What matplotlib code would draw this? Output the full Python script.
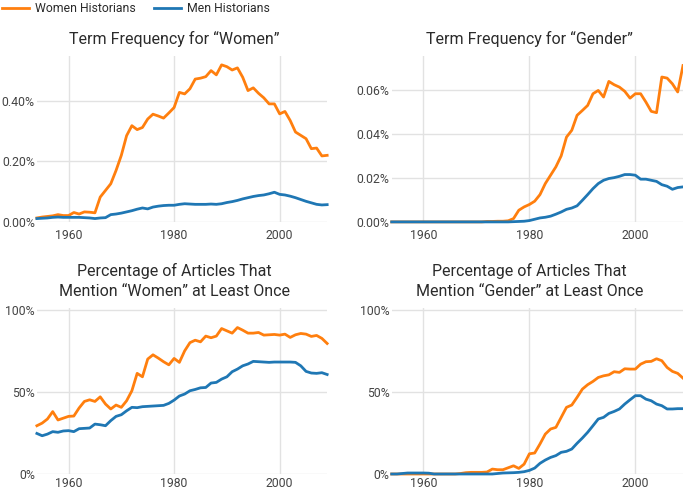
import matplotlib
matplotlib.use('Agg')
import matplotlib.pyplot as plt
from matplotlib.ticker import FuncFormatter

plt.rcParams['font.family'] = ['Roboto', 'DejaVu Sans']

years = list(range(1954, 2010))

# term frequency for "women", percent of words
tf_women_w = [0.013, 0.016, 0.018, 0.020, 0.024, 0.021, 0.021, 0.031, 0.026, 0.033,
              0.032, 0.030, 0.082, 0.104, 0.126, 0.170, 0.220, 0.285, 0.318, 0.305,
              0.312, 0.340, 0.356, 0.350, 0.343, 0.360, 0.378, 0.428, 0.423, 0.440,
              0.472, 0.475, 0.480, 0.500, 0.486, 0.519, 0.513, 0.502, 0.509, 0.478,
              0.434, 0.443, 0.425, 0.410, 0.390, 0.390, 0.357, 0.365, 0.335, 0.297,
              0.286, 0.275, 0.242, 0.244, 0.218, 0.220]
tf_women_m = [0.011, 0.012, 0.013, 0.015, 0.016, 0.015, 0.015, 0.015, 0.015, 0.014,
              0.013, 0.011, 0.013, 0.014, 0.024, 0.026, 0.029, 0.033, 0.037, 0.042,
              0.046, 0.043, 0.049, 0.052, 0.054, 0.055, 0.055, 0.058, 0.060, 0.059,
              0.058, 0.058, 0.058, 0.059, 0.058, 0.060, 0.064, 0.067, 0.071, 0.076,
              0.080, 0.084, 0.087, 0.089, 0.093, 0.098, 0.091, 0.089, 0.085, 0.080,
              0.074, 0.068, 0.063, 0.058, 0.056, 0.057]

# term frequency for "gender"
tf_gender_w = [0, 0, 0, 0, 0, 0, 0, 0, 0, 0,
               0, 0, 0, 0, 0, 0, 0, 0, 0.0002, 0.0002,
               0.0003, 0.0003, 0.0005, 0.0015, 0.0053, 0.0068, 0.0079, 0.0094, 0.0124, 0.0174,
               0.0212, 0.0250, 0.0300, 0.0385, 0.0416, 0.0484, 0.0506, 0.0529, 0.0582, 0.0597,
               0.0567, 0.0638, 0.0623, 0.0612, 0.0593, 0.0562, 0.0582, 0.0582, 0.0544, 0.0502,
               0.0496, 0.0658, 0.0653, 0.0627, 0.0590, 0.0710]
tf_gender_m = [0, 0, 0, 0, 0, 0, 0, 0, 0, 0,
               0, 0, 0, 0, 0, 0, 0, 0, 0, 0,
               0, 0, 0, 0.0001, 0.0002, 0.0003, 0.0006, 0.0012, 0.0018, 0.0021,
               0.0026, 0.0035, 0.0045, 0.0057, 0.0063, 0.0073, 0.0098, 0.0124, 0.0151, 0.0174,
               0.0189, 0.0197, 0.0201, 0.0207, 0.0215, 0.0215, 0.0212, 0.0194, 0.0194, 0.0189,
               0.0184, 0.0169, 0.0162, 0.0148, 0.0156, 0.0159]

# share of articles mentioning the term at least once, percent
art_women_w = [29.4, 31.0, 33.5, 38.0, 32.9, 34.0, 35.1, 35.3, 40.2, 44.2,
               45.2, 44.2, 47.0, 42.6, 39.6, 42.0, 40.6, 44.6, 50.7, 61.3,
               59.2, 70.0, 72.6, 70.6, 68.4, 66.5, 70.4, 68.0, 75.0, 80.0,
               81.5, 80.5, 84.0, 83.0, 84.0, 88.6, 87.2, 85.8, 89.2, 87.6,
               85.8, 85.8, 86.2, 84.6, 84.8, 85.0, 84.6, 85.2, 83.2, 84.8,
               85.6, 85.2, 83.8, 84.4, 82.6, 79.5]
art_women_m = [24.7, 23.3, 24.3, 25.8, 25.4, 26.2, 26.4, 25.8, 27.6, 27.8,
               28.0, 30.4, 30.0, 29.4, 32.5, 35.1, 36.1, 38.5, 40.6, 40.4,
               41.0, 41.2, 41.4, 41.6, 41.8, 43.0, 45.0, 47.5, 48.7, 50.7,
               51.5, 52.5, 52.7, 55.4, 55.8, 57.8, 59.2, 62.3, 63.9, 65.9,
               67.0, 68.6, 68.4, 68.2, 68.0, 68.2, 68.2, 68.2, 68.2, 68.0,
               65.9, 62.5, 61.5, 61.3, 61.7, 60.6]

art_gender_w = [0, 0, 0, 0, 0, 0, 0, 0, 0, 0,
                0, 0, 0, 0.3, 0.8, 1.0, 1.0, 1.0, 1.2, 3.0,
                2.6, 2.6, 3.8, 5.0, 3.4, 6.0, 12.3, 12.8, 18.3, 24.3,
                27.4, 28.4, 34.5, 40.6, 42.0, 46.7, 51.7, 54.4, 56.4, 58.8,
                59.8, 60.4, 62.3, 61.9, 64.1, 63.9, 63.9, 66.9, 68.4, 68.6,
                70.2, 69.0, 64.9, 62.5, 61.3, 58.4]
art_gender_m = [0, 0, 0.3, 0.6, 0.6, 0.6, 0.6, 0.5, 0, 0,
                0, 0, 0, 0, 0, 0, 0, 0, 0, 0,
                0.3, 0.6, 0.7, 0.8, 1.0, 1.4, 2.2, 3.6, 6.5, 8.5,
                10.1, 11.2, 13.2, 13.8, 15.2, 18.7, 21.9, 25.4, 29.4, 33.5,
                34.5, 36.9, 38.1, 39.6, 42.6, 45.2, 47.7, 47.7, 45.6, 44.6,
                42.6, 41.6, 39.6, 39.6, 39.8, 39.8]

titles = ['Term Frequency for \u201cWomen\u201d',
          'Term Frequency for \u201cGender\u201d',
          'Percentage of Articles That\nMention \u201cWomen\u201d at Least Once',
          'Percentage of Articles That\nMention \u201cGender\u201d at Least Once']

ORANGE = '#ff7f0e'
BLUE = '#1f77b4'
GRID = '#e2e2e2'


def style_axis(ax, title, yticks, fmt, ylim, xpad=5):
    ax.set_xlim(1954, 2009)
    ax.set_ylim(*ylim)
    ax.set_xticks([1960, 1980, 2000])
    ax.set_yticks(yticks)
    ax.yaxis.set_major_formatter(FuncFormatter(fmt))
    ax.grid(True, color=GRID, linewidth=1)
    ax.set_axisbelow(True)
    for s in ax.spines.values():
        s.set_visible(False)
    ax.tick_params(length=0, labelsize=8.8, colors='#444444')
    ax.tick_params(axis='x', pad=xpad)
    ax.tick_params(axis='y', pad=1.5)
    # titles sit a little left of the plot centre in the original
    ax.set_title(title, fontsize=11.5, color='#2b2b2b', pad=9, linespacing=1.4, x=0.474)


def draw(ax, women, men):
    ax.plot(years, women, c=ORANGE, lw=2, label='Women Historians', clip_on=False)
    ax.plot(years, men, c=BLUE, lw=2, label='Men Historians', clip_on=False)


fig = plt.figure(figsize=(6.83, 4.92), dpi=100)
ax1 = fig.add_axes([0.054, 0.549, 0.425, 0.337])
ax2 = fig.add_axes([0.5735, 0.549, 0.4265, 0.337])
ax3 = fig.add_axes([0.054, 0.0366, 0.425, 0.337])
ax4 = fig.add_axes([0.5735, 0.0366, 0.4265, 0.337])

draw(ax1, tf_women_w, tf_women_m)
draw(ax2, tf_gender_w, tf_gender_m)
draw(ax3, art_women_w, art_women_m)
draw(ax4, art_gender_w, art_gender_m)

style_axis(ax1, titles[0], [0, 0.2, 0.4], lambda v, p: '%.2f%%' % v, (0, 0.548))
style_axis(ax2, titles[1], [0, 0.02, 0.04, 0.06], lambda v, p: '%.2f%%' % v, (0, 0.0753))
style_axis(ax3, titles[2], [0, 50, 100], lambda v, p: '%d%%' % v, (0, 101), xpad=2.5)
style_axis(ax4, titles[3], [0, 50, 100], lambda v, p: '%d%%' % v, (0, 101), xpad=2.5)

handles, labels = ax1.get_legend_handles_labels()
fig.legend(handles, labels, loc='upper left', bbox_to_anchor=(-0.004, 1.006), ncol=2,
           frameon=False, fontsize=8.8, handlelength=2.2, handletextpad=0.5,
           columnspacing=1.5, labelcolor='#2b2b2b', borderaxespad=0)

fig.savefig('out.png', dpi=100)
